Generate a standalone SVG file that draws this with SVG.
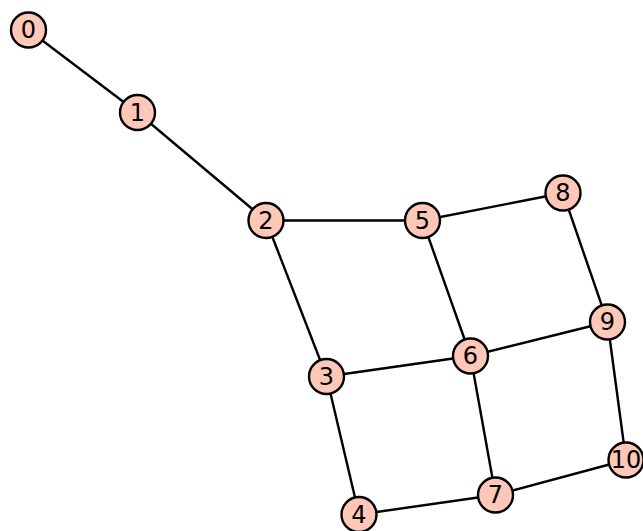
<svg xmlns="http://www.w3.org/2000/svg" width="643" height="531" viewBox="0 0 643 531">
<style>
.e{stroke:#000;stroke-width:2.4;fill:none}
.n circle{fill:#fec7b8;stroke:#000;stroke-width:2.4}
.n text{font-family:"DejaVu Sans",sans-serif;font-size:24px;text-anchor:middle;dominant-baseline:central;fill:#000}
</style>
<rect width="643" height="531" fill="#fff"/>
<g id="edges">
<line class="e" x1="28.5" y1="30" x2="137.5" y2="112.5"/>
<line class="e" x1="137.5" y1="112.5" x2="266" y2="220.5"/>
<line class="e" x1="266" y1="220.5" x2="422.5" y2="220.5"/>
<line class="e" x1="266" y1="220.5" x2="326.5" y2="376.5"/>
<line class="e" x1="422.5" y1="220.5" x2="563" y2="193"/>
<line class="e" x1="422.5" y1="220.5" x2="470.5" y2="356"/>
<line class="e" x1="326.5" y1="376.5" x2="470.5" y2="356"/>
<line class="e" x1="326.5" y1="376.5" x2="359" y2="514.5"/>
<line class="e" x1="359" y1="514.5" x2="495.5" y2="495"/>
<line class="e" x1="470.5" y1="356" x2="495.5" y2="495"/>
<line class="e" x1="470.5" y1="356" x2="607.5" y2="322"/>
<line class="e" x1="563" y1="193" x2="607.5" y2="322"/>
<line class="e" x1="607.5" y1="322" x2="626" y2="460"/>
<line class="e" x1="495.5" y1="495" x2="626" y2="460"/>
</g>
<g id="n0" class="n"><circle cx="28.5" cy="30" r="17.5"/><text x="28.5" y="30">0</text></g>
<g id="n1" class="n"><circle cx="137.5" cy="112.5" r="17.5"/><text x="137.5" y="112.5">1</text></g>
<g id="n2" class="n"><circle cx="266" cy="220.5" r="17.5"/><text x="266" y="220.5">2</text></g>
<g id="n3" class="n"><circle cx="326.5" cy="376.5" r="17.5"/><text x="326.5" y="376.5">3</text></g>
<g id="n4" class="n"><circle cx="359" cy="514.5" r="17.5"/><text x="359" y="514.5">4</text></g>
<g id="n5" class="n"><circle cx="422.5" cy="220.5" r="17.5"/><text x="422.5" y="220.5">5</text></g>
<g id="n6" class="n"><circle cx="470.5" cy="356" r="17.5"/><text x="470.5" y="356">6</text></g>
<g id="n7" class="n"><circle cx="495.5" cy="495" r="17.5"/><text x="495.5" y="495">7</text></g>
<g id="n8" class="n"><circle cx="563" cy="193" r="17.5"/><text x="563" y="193">8</text></g>
<g id="n9" class="n"><circle cx="607.5" cy="322" r="17.5"/><text x="607.5" y="322">9</text></g>
<g id="n10" class="n"><circle cx="626" cy="460" r="17.5"/><text x="626" y="460">10</text></g>
</svg>
